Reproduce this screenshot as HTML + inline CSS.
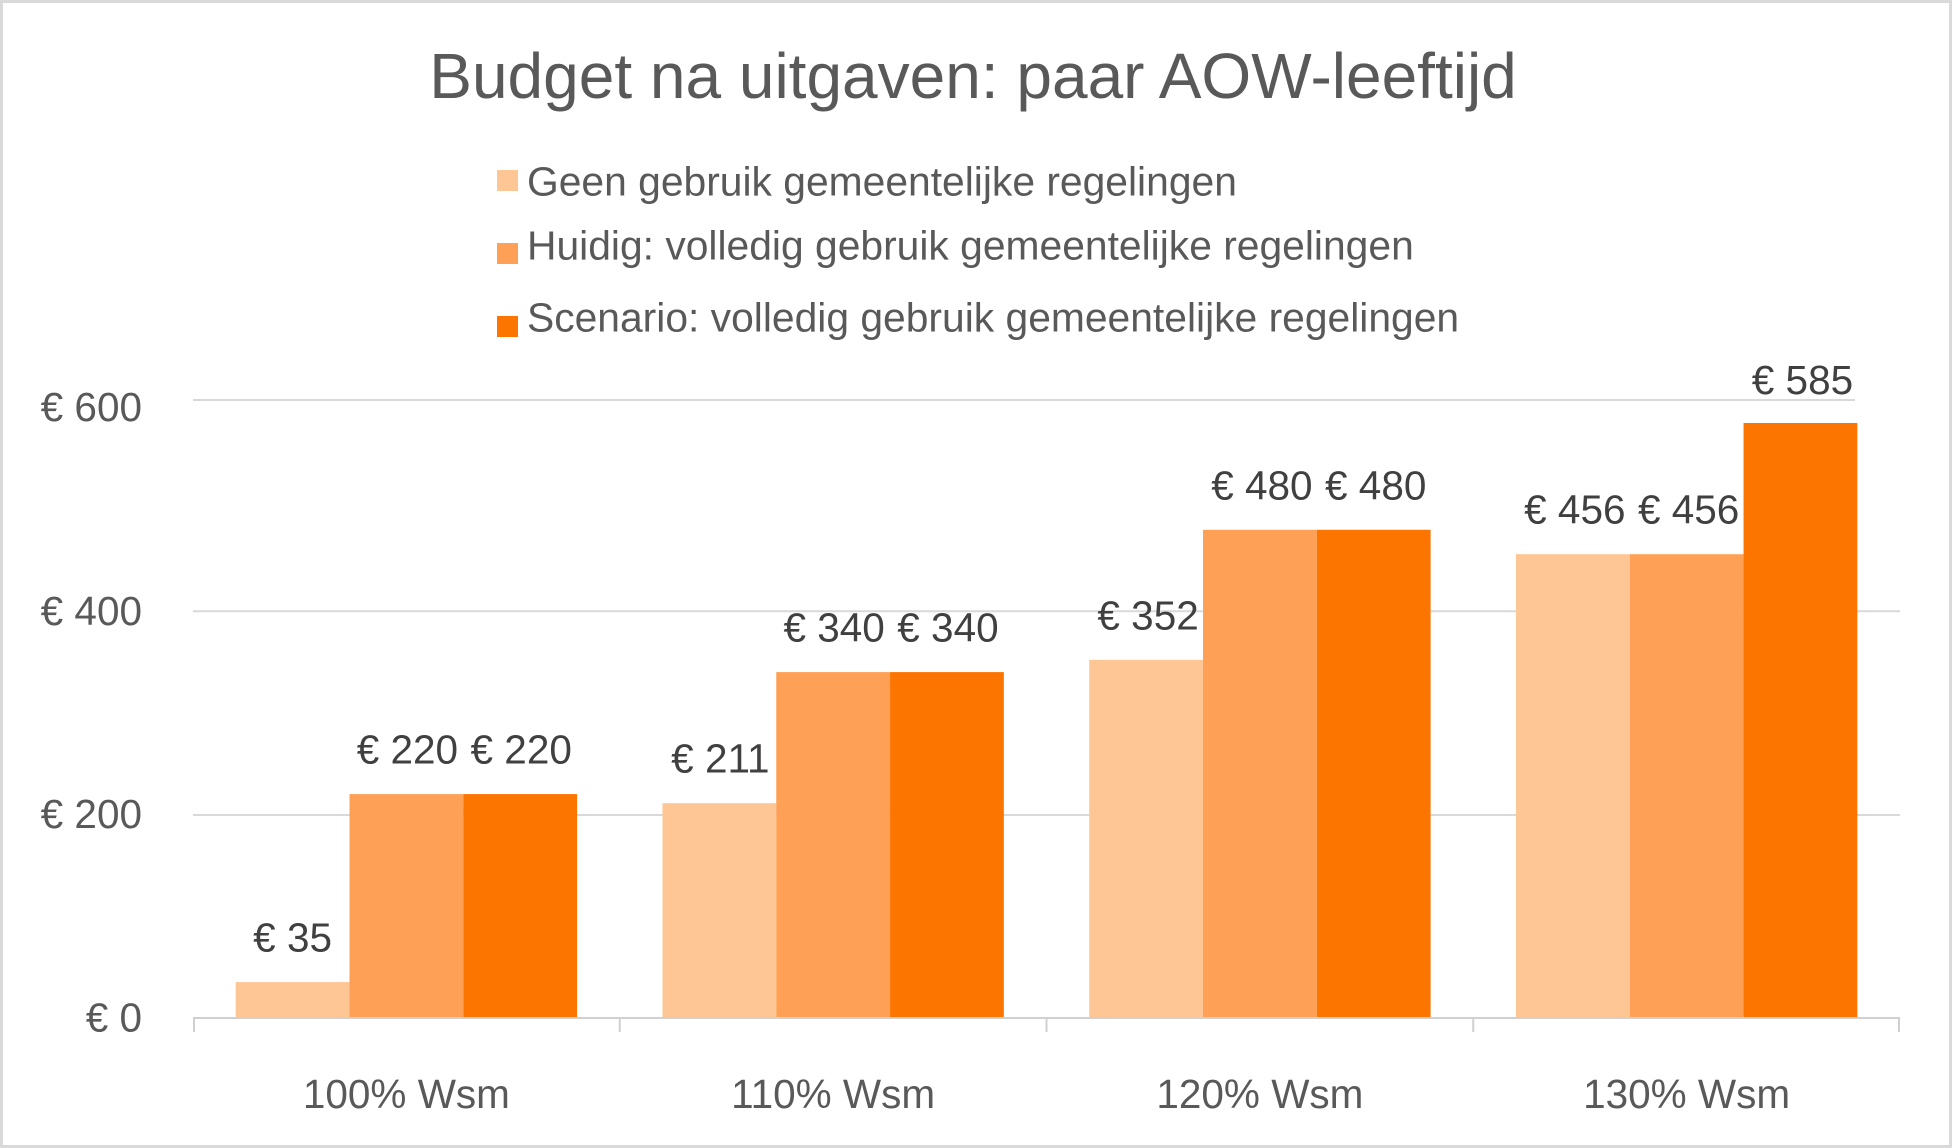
<!DOCTYPE html>
<html>
<head>
<meta charset="utf-8">
<style>
html,body{margin:0;padding:0;background:#fff;}
svg{display:block;}
text{font-family:"Liberation Sans",Arial,sans-serif;}
</style>
</head>
<body>
<svg width="1952" height="1148" viewBox="0 0 1952 1148" xmlns="http://www.w3.org/2000/svg">
<rect x="0" y="0" width="1952" height="1148" fill="#ffffff"/>
<rect x="1.5" y="1.5" width="1949" height="1145" fill="#ffffff" stroke="#d9d9d9" stroke-width="3"/>

<!-- title -->
<text x="973" y="98" font-size="64" fill="#595959" text-anchor="middle">Budget na uitgaven: paar AOW-leeftijd</text>

<!-- legend -->
<rect x="497" y="170" width="21" height="21" fill="#FEC694"/>
<text x="527" y="195.5" font-size="40.8" fill="#595959">Geen gebruik gemeentelijke regelingen</text>
<rect x="497" y="243" width="21" height="21" fill="#FEA156"/>
<text x="527" y="259.3" font-size="40.8" fill="#595959">Huidig: volledig gebruik gemeentelijke regelingen</text>
<rect x="497" y="316" width="21" height="21" fill="#FB7500"/>
<text x="527" y="331.7" font-size="40.8" fill="#595959">Scenario: volledig gebruik gemeentelijke regelingen</text>

<!-- gridlines -->
<g stroke="#d9d9d9" stroke-width="2">
<line x1="193" y1="400" x2="1855" y2="400"/>
<line x1="193" y1="611.3" x2="1900" y2="611.3"/>
<line x1="193" y1="815" x2="1900" y2="815"/>
</g>

<!-- y labels -->
<g font-size="40.5" fill="#595959" text-anchor="end">
<text x="142" y="421">€ 600</text>
<text x="142" y="625">€ 400</text>
<text x="142" y="828">€ 200</text>
<text x="142" y="1031.7">€ 0</text>
</g>

<!-- bars -->
<g>
<rect x="235.7" y="982.1" width="113.8" height="35.6" fill="#FEC694"/>
<rect x="349.5" y="794.1" width="113.8" height="223.6" fill="#FEA156"/>
<rect x="463.3" y="794.1" width="113.8" height="223.6" fill="#FB7500"/>
<rect x="662.45" y="803.2" width="113.8" height="214.5" fill="#FEC694"/>
<rect x="776.25" y="672.1" width="113.8" height="345.6" fill="#FEA156"/>
<rect x="890.05" y="672.1" width="113.8" height="345.6" fill="#FB7500"/>
<rect x="1089.2" y="659.9" width="113.8" height="357.8" fill="#FEC694"/>
<rect x="1203" y="529.8" width="113.8" height="487.9" fill="#FEA156"/>
<rect x="1316.8" y="529.8" width="113.8" height="487.9" fill="#FB7500"/>
<rect x="1515.95" y="554.2" width="113.8" height="463.5" fill="#FEC694"/>
<rect x="1629.75" y="554.2" width="113.8" height="463.5" fill="#FEA156"/>
<rect x="1743.55" y="423" width="113.8" height="594.7" fill="#FB7500"/>
</g>

<!-- axis -->
<g stroke="#d0d0d0" stroke-width="2">
<line x1="193" y1="1018" x2="1900" y2="1018"/>
<line x1="194" y1="1018" x2="194" y2="1032"/>
<line x1="619.75" y1="1018" x2="619.75" y2="1032"/>
<line x1="1046.5" y1="1018" x2="1046.5" y2="1032"/>
<line x1="1473.25" y1="1018" x2="1473.25" y2="1032"/>
<line x1="1899" y1="1018" x2="1899" y2="1032"/>
</g>

<!-- data labels -->
<g font-size="40.5" fill="#404040" text-anchor="middle">
<text x="292.6" y="951.6">€ 35</text>
<text x="407.4" y="763.6">€ 220</text>
<text x="521.2" y="763.6">€ 220</text>
<text x="720.35" y="772.7">€ 211</text>
<text x="834.15" y="641.6">€ 340</text>
<text x="947.95" y="641.6">€ 340</text>
<text x="1148.1" y="629.4">€ 352</text>
<text x="1261.9" y="499.3">€ 480</text>
<text x="1375.7" y="499.3">€ 480</text>
<text x="1574.85" y="523.7">€ 456</text>
<text x="1688.65" y="523.7">€ 456</text>
<text x="1802.45" y="394">€ 585</text>
</g>

<!-- category labels -->
<g font-size="40.5" fill="#595959" text-anchor="middle">
<text x="406.4" y="1108">100% Wsm</text>
<text x="833.1" y="1108">110% Wsm</text>
<text x="1259.9" y="1108">120% Wsm</text>
<text x="1686.6" y="1108">130% Wsm</text>
</g>
</svg>
</body>
</html>
